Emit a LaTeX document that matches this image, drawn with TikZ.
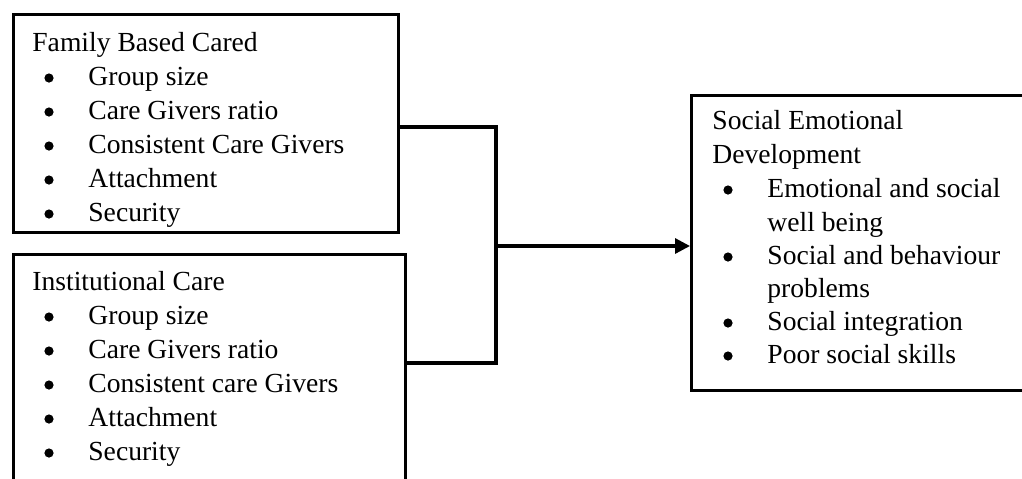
\documentclass[tikz,border=0pt]{standalone}
\usepackage{fontspec}
\setmainfont{Liberation Serif}
\usetikzlibrary{arrows.meta}
\begin{document}
\begin{tikzpicture}[x=0.5pt,y=-0.5pt,
  panel/.style={draw,line width=1.6pt,rectangle,inner sep=0pt,anchor=north west},
  txt/.style={inner sep=0pt,anchor=base west,font=\fontsize{13.8}{17}\selectfont},
  wire/.style={line width=1.6pt},
  tip/.style={-{Triangle[length=7.5pt,width=7.5pt]}},
  dot/.style={radius=2.3pt}]
\clip (0,0) rectangle (1022,478);

% bullet drawn in front of a list item node
\newcommand\bulletfor[1]{\fill[dot] ([xshift=-19.5pt,yshift=3.5pt]#1.base west) circle;}

% boxes
\node[panel,minimum width=192.5pt,minimum height=109pt] (fam) at (12,13) {};
\node[panel,minimum width=196pt,minimum height=130pt] (inst) at (12,253) {};
\node[panel,minimum width=175pt,minimum height=147.5pt] (sed) at (690,94) {};

% family based care
\node[txt] (famtitle) at (32,51) {Family Based Cared};
\foreach \t [count=\i] in {Group size,Care Givers ratio,Consistent Care Givers,Attachment,Security}{
  \node[txt] (fam-\i) at (88,51+34*\i) {\t};
  \bulletfor{fam-\i}}

% institutional care
\node[txt] (insttitle) at (32,290) {Institutional Care};
\foreach \t [count=\i] in {Group size,Care Givers ratio,Consistent care Givers,Attachment,Security}{
  \node[txt] (inst-\i) at (88,290+34*\i) {\t};
  \bulletfor{inst-\i}}

% social emotional development
\node[txt] (sedtitle1) at (712,129) {Social Emotional};
\node[txt] (sedtitle2) at (712,163) {Development};
\node[txt] (sed-1) at (767,197) {Emotional and social};
\node[txt] (sed-1b) at (767,231) {well being};
\node[txt] (sed-2) at (767,264) {Social and behaviour};
\node[txt] (sed-2b) at (767,297) {problems};
\node[txt] (sed-3) at (767,330) {Social integration};
\node[txt] (sed-4) at (767,363) {Poor social skills};
\foreach \n in {sed-1,sed-2,sed-3,sed-4}{\bulletfor{\n}}

% connectors
\coordinate (jtop) at (496,127);
\coordinate (jbot) at (496,363);
\coordinate (jmid) at (496,246);
\draw[wire] (fam.east |- jtop) -- (jtop) -- (jbot) -- (inst.east |- jbot);
\draw[wire,tip] (jmid) -- (sed.west |- jmid);
\end{tikzpicture}
\end{document}
